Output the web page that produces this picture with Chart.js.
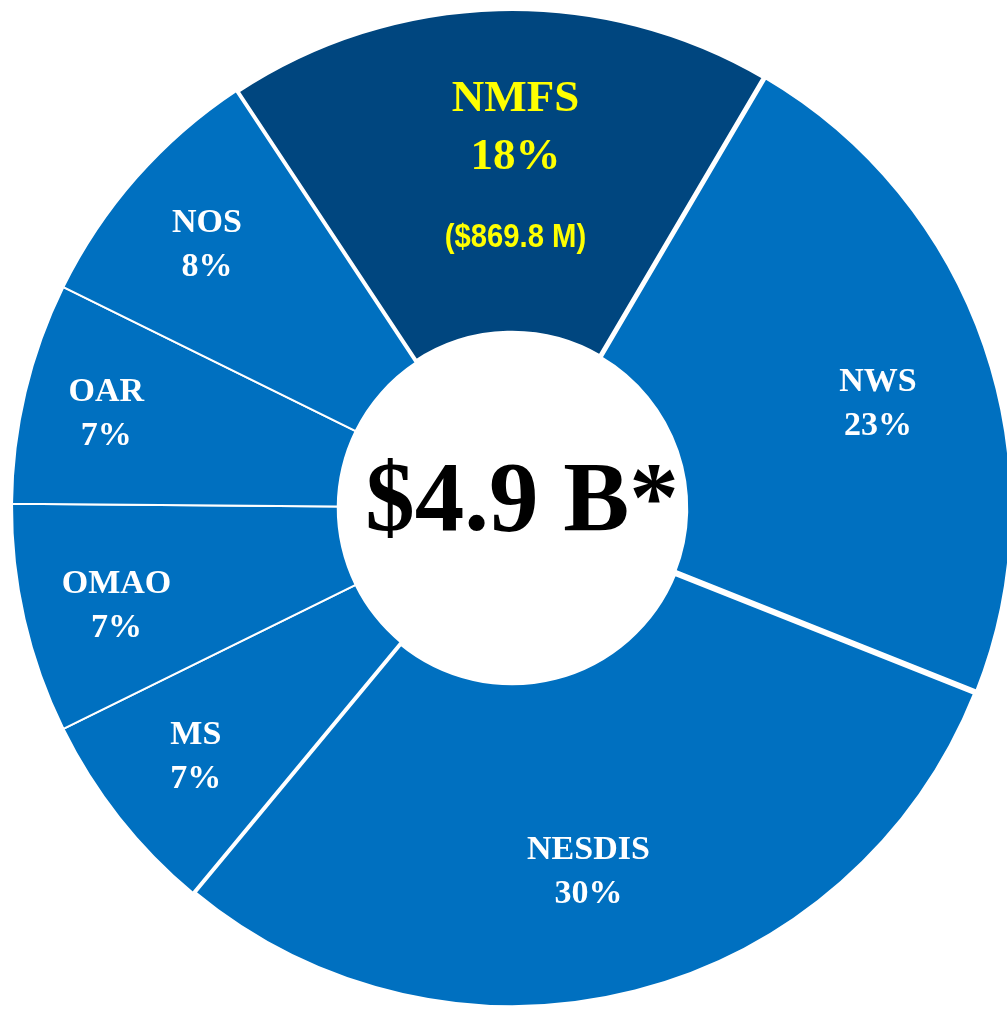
<!DOCTYPE html>
<html>
<head>
<meta charset="utf-8">
<script src="https://cdn.jsdelivr.net/npm/chart.js@4.4.1/dist/chart.umd.min.js"></script>
<style>
  html, body { margin: 0; padding: 0; background: #ffffff; overflow: hidden; width: 1007px; height: 1010px; }
  #wrap { position: absolute; left: 0; top: 0; width: 1024px; height: 1016px; }
</style>
</head>
<body>
<div id="wrap"><canvas id="c"></canvas></div>
<script>
// ---- data (values in $ millions) ----
const categories = ["NMFS", "NWS", "NESDIS", "MS", "OMAO", "OAR", "NOS"];
const values = [869.8, 1105, 1469, 328, 363, 350, 412];
const percentLabels = ["18%", "23%", "30%", "7%", "7%", "7%", "8%"];
const amountLabels = ["($869.8 M)", "", "", "", "", "", ""];
const centerLabel = "$4.9 B*";

// ---- styles ----
const segColors = ["#00467F", "#0070C0", "#0070C0", "#0070C0", "#0070C0", "#0070C0", "#0070C0"];
const segBorders = [6, 4, 6, 2, 2, 2, 2];
const labelRadiusFrac = [0.686, 0.762, 0.74, 0.802, 0.814, 0.834, 0.808];
const labelAngleShiftDeg = [2.1, 2.8, 2.4, 0.3, -0.8, 0, -0.4];

const labelPlugin = {
  id: 'segLabels',
  afterDatasetsDraw(chart) {
    const ctx = chart.ctx;
    const meta = chart.getDatasetMeta(0);
    ctx.save();
    ctx.textAlign = 'center';
    ctx.textBaseline = 'alphabetic';
    meta.data.forEach((arc, i) => {
      const p = arc.getProps(['x', 'y', 'startAngle', 'endAngle', 'outerRadius'], true);
      const mid = (p.startAngle + p.endAngle) / 2 + labelAngleShiftDeg[i] * Math.PI / 180;
      const r = p.outerRadius * labelRadiusFrac[i];
      const x = p.x + Math.cos(mid) * r;
      const y = p.y + Math.sin(mid) * r;
      if (i === 0) {
        ctx.fillStyle = '#FFFF00';
        ctx.font = 'bold 45px "Liberation Serif", "Times New Roman", serif';
        ctx.fillText(categories[i], x, y - 69 + 15);
        ctx.fillText(percentLabels[i], x, y - 12 + 16);
        ctx.save();
        ctx.translate(x, y + 70 + 12);
        ctx.scale(0.86, 1);
        ctx.font = 'bold 34px "Liberation Sans", Arial, sans-serif';
        ctx.fillText(amountLabels[i], 0, 0);
        ctx.restore();
      } else {
        ctx.fillStyle = '#FFFFFF';
        ctx.font = 'bold 34px "Liberation Serif", "Times New Roman", serif';
        ctx.fillText(categories[i], x, y - 22 + 11);
        ctx.fillText(percentLabels[i], x, y + 22 + 11);
      }
    });
    // centre total
    const a0 = meta.data[0];
    ctx.fillStyle = '#000000';
    ctx.font = 'bold 99px "Liberation Serif", "Times New Roman", serif';
    ctx.fillText(centerLabel, a0.x + 10, a0.y + 22);
    ctx.restore();
  }
};

new Chart(document.getElementById('c'), {
  type: 'doughnut',
  data: {
    labels: categories,
    datasets: [{
      data: values,
      backgroundColor: segColors,
      borderColor: '#FFFFFF',
      borderWidth: segBorders,
      hoverOffset: 0
    }]
  },
  options: {
    responsive: true,
    maintainAspectRatio: false,
    animation: false,
    events: [],
    rotation: -33.5,
    radius: 500,
    cutout: 176,
    layout: { padding: 0 },
    plugins: {
      legend: { display: false },
      tooltip: { enabled: false }
    }
  },
  plugins: [labelPlugin]
});
</script>
</body>
</html>
